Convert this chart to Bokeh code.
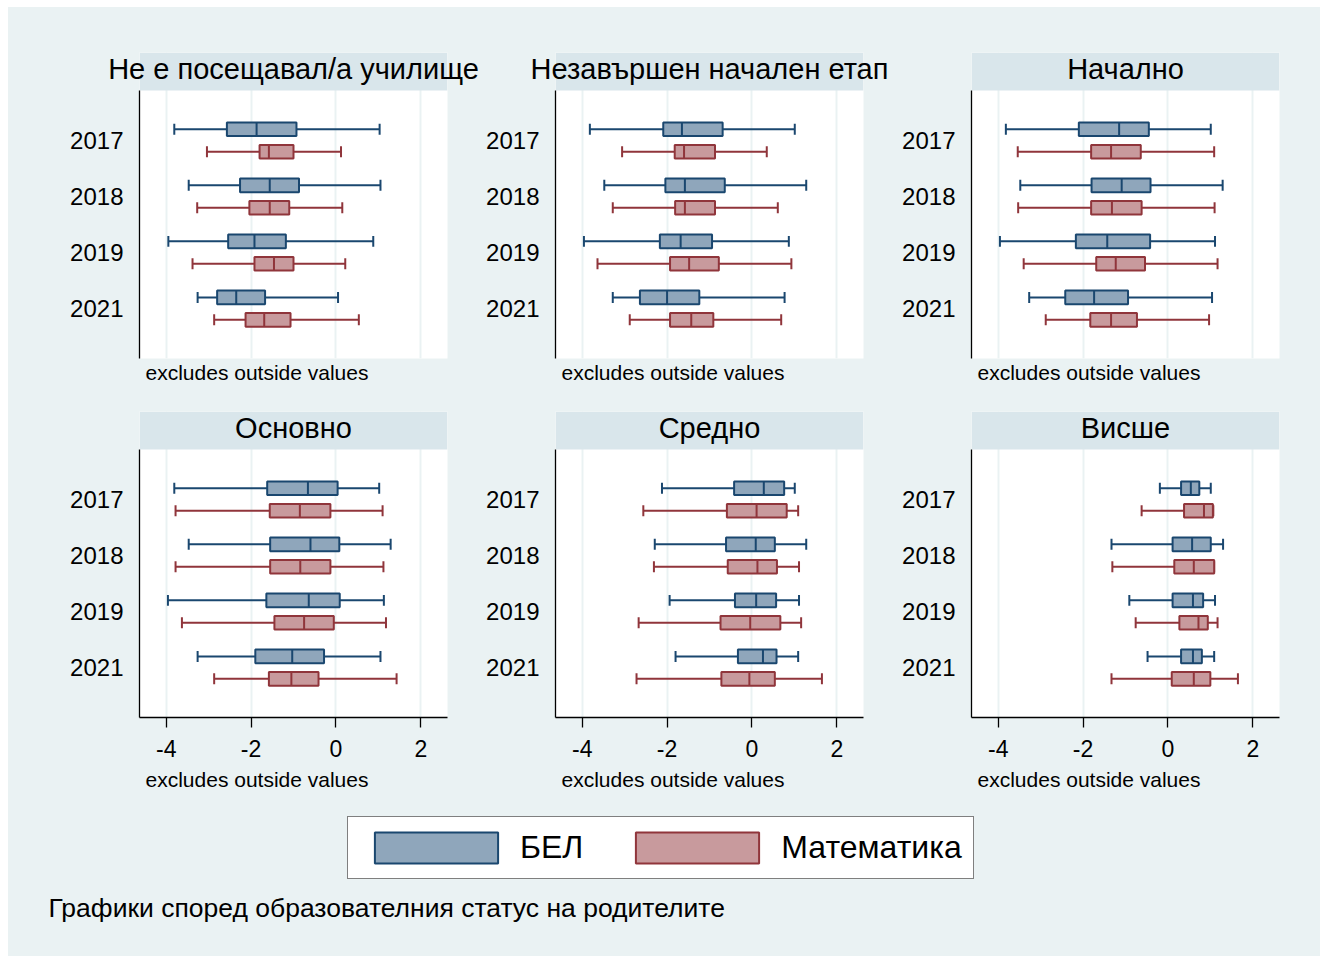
from bokeh.plotting import figure
from bokeh.layouts import column, row
from bokeh.models import (Range1d, FixedTicker, Grid, BoxAnnotation, Label, Title,
                          Legend, LegendItem, ColumnDataSource, LinearAxis)
from bokeh.embed import file_html
from bokeh.resources import INLINE

# ---------------- data ----------------
PANELS = ["Не е посещавал/а училище", "Незавършен начален етап", "Начално",
          "Основно", "Средно", "Висше"]
YEARS = ["2017", "2018", "2019", "2021"]
XTICKS = [-4, -2, 0, 2]
XTICK_LABELS = ["-4", "-2", "0", "2"]
SERIES = ["БЕЛ", "Математика"]
NOTE = "excludes outside values"
CAPTION = "Графики според образователния статус на родителите"

BEL_LO = [[-3.81, -3.47, -3.95, -3.26], [-3.82, -3.48, -3.96, -3.28], [-3.82, -3.48, -3.96, -3.27],
          [-3.81, -3.47, -3.96, -3.26], [-2.12, -2.29, -1.94, -1.80], [-0.19, -1.33, -0.91, -0.48]]
BEL_Q1 = [[-2.57, -2.26, -2.54, -2.80], [-2.09, -2.04, -2.17, -2.64], [-2.10, -1.80, -2.17, -2.42],
          [-1.62, -1.55, -1.64, -1.90], [-0.42, -0.61, -0.40, -0.33], [0.31, 0.11, 0.11, 0.31]]
BEL_MED = [[-1.87, -1.56, -1.92, -2.35], [-1.65, -1.58, -1.68, -2.00], [-1.15, -1.09, -1.43, -1.74],
           [-0.66, -0.60, -0.64, -1.03], [0.28, 0.09, 0.10, 0.26], [0.54, 0.57, 0.59, 0.59]]
BEL_Q3 = [[-0.93, -0.87, -1.18, -1.67], [-0.69, -0.64, -0.94, -1.24], [-0.45, -0.41, -0.42, -0.94],
          [0.04, 0.08, 0.09, -0.28], [0.76, 0.54, 0.57, 0.58], [0.74, 1.01, 0.83, 0.80]]
BEL_HI = [[1.03, 1.05, 0.88, 0.05], [1.01, 1.28, 0.87, 0.77], [1.01, 1.29, 1.11, 1.04],
          [1.02, 1.29, 1.13, 1.05], [1.01, 1.28, 1.11, 1.09], [1.01, 1.30, 1.11, 1.09]]

MAT_LO = [[-3.04, -3.27, -3.38, -2.87], [-3.06, -3.28, -3.64, -2.88], [-3.54, -3.53, -3.40, -2.88],
          [-3.78, -3.78, -3.63, -2.87], [-2.56, -2.31, -2.67, -2.72], [-0.62, -1.31, -0.76, -1.33]]
MAT_Q1 = [[-1.80, -2.04, -1.92, -2.13], [-1.82, -1.81, -1.93, -1.93], [-1.81, -1.81, -1.69, -1.83],
          [-1.56, -1.55, -1.45, -1.58], [-0.59, -0.57, -0.74, -0.72], [0.38, 0.15, 0.27, 0.09]]
MAT_MED = [[-1.58, -1.56, -1.46, -1.69], [-1.60, -1.58, -1.48, -1.43], [-1.34, -1.32, -1.23, -1.34],
           [-0.85, -0.84, -0.75, -1.05], [0.11, 0.13, -0.04, -0.06], [0.85, 0.61, 0.72, 0.61]]
MAT_Q3 = [[-1.00, -1.10, -1.00, -1.07], [-0.87, -0.87, -0.78, -0.91], [-0.64, -0.62, -0.54, -0.73],
          [-0.13, -0.13, -0.05, -0.41], [0.82, 0.59, 0.67, 0.54], [1.06, 1.09, 0.94, 1.00]]
MAT_HI = [[0.12, 0.15, 0.22, 0.54], [0.35, 0.61, 0.93, 0.69], [1.09, 1.10, 1.17, 0.97],
          [1.10, 1.12, 1.18, 1.43], [1.09, 1.11, 1.16, 1.65], [1.07, 1.09, 1.17, 1.65]]

# ---------------- styles ----------------
FONT = "Liberation Sans"
BG = "#EAF2F3"
BAR = "#D9E6EB"
BEL_LINE, BEL_FILL = "#1A476F", "#8FA6BB"
MAT_LINE, MAT_FILL = "#90353B", "#C89A9D"

X_START, X_END = -4.63, 2.63
TITLE_X = -1
Y_BOT, Y_TOP, Y_BAR = -0.89, 3.89, 4.57
OFF, BOX_H, CAP_H = 0.2, 0.243, 0.196
FW, FH = 308, 306
LEFT = [131, 74, 75]
RIGHT = [34, 33, 41]


def series_source(i, lo, q1, med, q3, hi, off):
    n = len(YEARS)
    y = [n - 1 - k + off for k in range(n)]
    return ColumnDataSource(dict(
        y=y, lo=lo[i], q1=q1[i], med=med[i], q3=q3[i], hi=hi[i],
        cb=[v - CAP_H / 2 for v in y], ct=[v + CAP_H / 2 for v in y],
        bb=[v - BOX_H / 2 for v in y], bt=[v + BOX_H / 2 for v in y],
    ))


def draw_box(p, src, line, fill):
    kw = dict(line_color=line, line_width=2, line_cap="butt")
    p.segment(x0="lo", x1="q1", y0="y", y1="y", source=src, **kw)
    p.segment(x0="q3", x1="hi", y0="y", y1="y", source=src, **kw)
    p.segment(x0="lo", x1="lo", y0="cb", y1="ct", source=src, **kw)
    p.segment(x0="hi", x1="hi", y0="cb", y1="ct", source=src, **kw)
    p.hbar(y="y", left="q1", right="q3", height=BOX_H, source=src,
           fill_color=fill, line_color=line, line_width=2)
    p.segment(x0="med", x1="med", y0="bb", y1="bt", source=src, **kw)


def make_panel(i):
    col = i % 3
    bottom = i >= 3
    p = figure(title=None, frame_width=FW, frame_height=FH,
               x_range=Range1d(X_START, X_END), y_range=Range1d(Y_BOT, Y_BAR),
               x_axis_location="below" if bottom else None, y_axis_location="left",
               toolbar_location=None, output_backend="svg",
               min_border_left=LEFT[col], min_border_right=RIGHT[col],
               min_border_top=11 if bottom else 45, min_border_bottom=83 if bottom else 42,
               background_fill_color="white", border_fill_color=BG, outline_line_color=None)
    p.xgrid.visible = False
    p.ygrid.visible = False
    p.add_layout(Grid(dimension=0, ticker=FixedTicker(ticks=XTICKS),
                      grid_line_color=BG, grid_line_width=2))

    n = len(YEARS)
    ypos = [n - 1 - k for k in range(n)]
    ya = p.yaxis[0]
    ya.ticker = FixedTicker(ticks=ypos)
    ya.major_label_overrides = {ypos[k]: YEARS[k] for k in range(n)}
    ya.bounds = (Y_BOT, Y_TOP)
    ya.axis_line_color = "black"
    ya.axis_line_width = 1.3
    ya.major_tick_line_color = None
    ya.minor_tick_line_color = None
    ya.major_tick_out = 0
    ya.major_tick_in = 0
    ya.major_label_standoff = 16
    ya.major_label_text_font = FONT
    ya.major_label_text_font_size = "24px"
    ya.major_label_text_color = "black"

    if bottom:
        xa = p.xaxis[0]
        xa.ticker = FixedTicker(ticks=XTICKS)
        xa.major_label_overrides = {XTICKS[k]: XTICK_LABELS[k] for k in range(len(XTICKS))}
        xa.axis_line_color = "black"
        xa.axis_line_width = 1.3
        xa.major_tick_line_color = "black"
        xa.major_tick_line_width = 1.3
        xa.major_tick_out = 10
        xa.major_tick_in = 0
        xa.minor_tick_line_color = None
        xa.major_label_standoff = 12
        xa.major_label_text_font = FONT
        xa.major_label_text_font_size = "23px"
        xa.major_label_text_color = "black"

    # strip (title bar) inside the frame, under the glyphs; title text via an unclipped top axis label
    p.add_layout(BoxAnnotation(bottom=Y_TOP, fill_color=BAR, fill_alpha=1.0,
                               line_color=None, level="underlay"))
    ta = LinearAxis(ticker=FixedTicker(ticks=[TITLE_X]),
                    major_label_overrides={TITLE_X: PANELS[i]},
                    axis_line_color=None, major_tick_line_color=None,
                    minor_tick_line_color=None, major_tick_out=0, major_tick_in=0,
                    major_label_standoff=-32, major_label_text_font=FONT,
                    major_label_text_font_size="29px", major_label_text_color="black")
    p.add_layout(ta, "above")

    draw_box(p, series_source(i, BEL_LO, BEL_Q1, BEL_MED, BEL_Q3, BEL_HI, OFF), BEL_LINE, BEL_FILL)
    draw_box(p, series_source(i, MAT_LO, MAT_Q1, MAT_MED, MAT_Q3, MAT_HI, -OFF), MAT_LINE, MAT_FILL)

    p.add_layout(Title(text=NOTE, align="left", offset=6, standoff=12 if bottom else 0,
                       text_font=FONT, text_font_size="21px", text_font_style="normal",
                       text_color="black"), "below")
    return p


panels = [make_panel(i) for i in range(len(PANELS))]

NAN = float("nan")
pb = figure(title=None, width=1312, height=156, x_range=Range1d(0, 1), y_range=Range1d(0, 1),
            x_axis_location=None, y_axis_location=None, toolbar_location=None,
            output_backend="svg", min_border=0, background_fill_color=BG,
            border_fill_color=BG, outline_line_color=None)
pb.xgrid.visible = False
pb.ygrid.visible = False
r_bel = pb.hbar(y=[NAN], left=[NAN], right=[NAN], height=1, fill_color=BEL_FILL,
                line_color=BEL_LINE, line_width=2)
r_mat = pb.hbar(y=[NAN], left=[NAN], right=[NAN], height=1, fill_color=MAT_FILL,
                line_color=MAT_LINE, line_width=2)
legend = Legend(items=[LegendItem(label=SERIES[0], renderers=[r_bel]),
                       LegendItem(label=SERIES[1], renderers=[r_mat])],
                orientation="horizontal", location=(339, 77),
                glyph_width=154, glyph_height=39, padding=11, margin=0,
                spacing=37, label_standoff=7,
                label_text_font=FONT, label_text_font_size="32px", label_text_color="black",
                border_line_color="black", border_line_width=1.5,
                background_fill_color="white", background_fill_alpha=1.0)
pb.add_layout(legend)
pb.add_layout(Label(x=40, y=49, x_units="screen", y_units="screen", text=CAPTION,
                    text_font=FONT, text_font_size="26.5px", text_baseline="alphabetic",
                    text_color="black"))

row1 = row(*panels[:3], styles={"background-color": BG})
row2 = row(*panels[3:], styles={"background-color": BG})
layout = column(row1, row2, pb, styles={"background-color": BG})
layout.margin = (7, 0, 0, 8)

with open("out.html", "w") as f:
    f.write(file_html(layout, INLINE))
